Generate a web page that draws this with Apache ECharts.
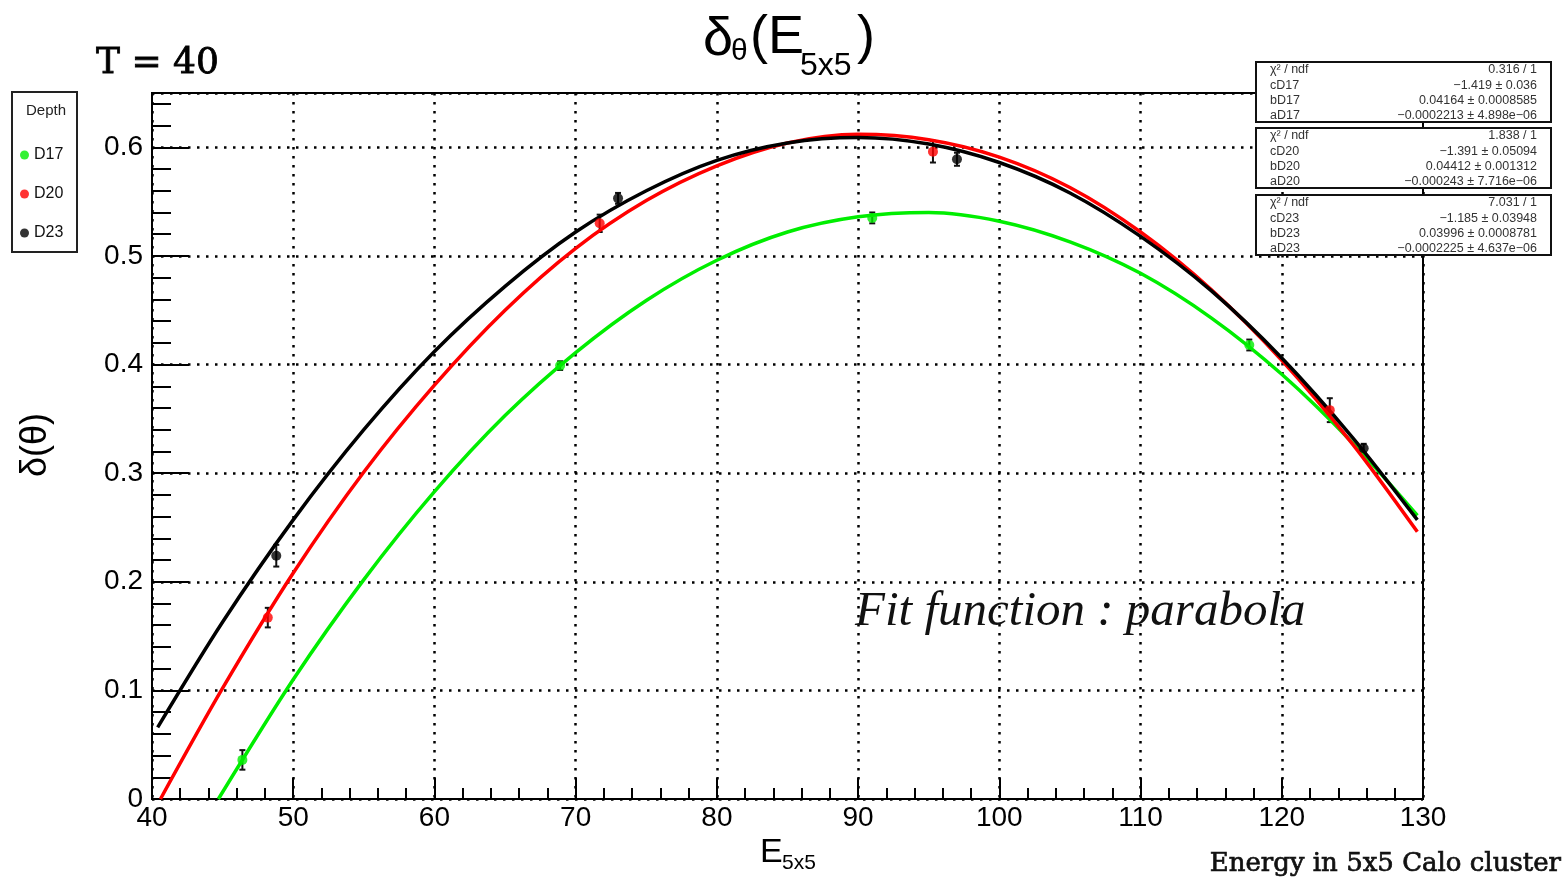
<!DOCTYPE html>
<html>
<head>
<meta charset="utf-8">
<script src="https://cdn.jsdelivr.net/npm/echarts@6/dist/echarts.min.js"></script>
<style>html,body{margin:0;padding:0;background:#fff;}#c{width:1568px;height:881px;}</style>
</head>
<body>
<div id="c"></div>
<script>
// ---- data ----
const xTicks = [40, 50, 60, 70, 80, 90, 100, 110, 120, 130];
const yTicks = [0, 0.1, 0.2, 0.3, 0.4, 0.5, 0.6];

const seriesNames = ['D17', 'D20', 'D23'];

const xD17 = [46.4, 68.9, 91.0, 117.7];
const yD17 = [0.036, 0.399, 0.535, 0.418];
const eD17 = [0.009, 0.004, 0.005, 0.005];

const xD20 = [48.2, 71.7, 95.3, 123.4];
const yD20 = [0.167, 0.530, 0.596, 0.358];
const eD20 = [0.009, 0.008, 0.010, 0.011];

const xD23 = [48.8, 73.0, 97.0, 125.8];
const yD23 = [0.224, 0.553, 0.589, 0.323];
const eD23 = [0.010, 0.005, 0.006, 0.004];

// fit curves (parabolas)
const fitD17X = [44.7, 50, 55, 60, 65, 70, 75, 80, 85, 90, 95, 100, 105, 110, 115, 120, 125, 129.6];
const fitD17Y = [0.000, 0.110, 0.202, 0.283, 0.353, 0.411, 0.459, 0.496, 0.522, 0.536, 0.540, 0.532, 0.513, 0.484, 0.443, 0.391, 0.328, 0.261];
const fitD20X = [40.6, 45, 50, 55, 60, 65, 70, 75, 80, 85, 90, 95, 100, 105, 110, 115, 120, 125, 129.6];
const fitD20Y = [0.000, 0.102, 0.208, 0.301, 0.381, 0.450, 0.507, 0.551, 0.583, 0.604, 0.612, 0.607, 0.591, 0.563, 0.522, 0.469, 0.404, 0.327, 0.246];
const fitD23X = [40.4, 45, 50, 55, 60, 65, 70, 75, 80, 85, 90, 95, 100, 105, 110, 115, 120, 125, 129.6];
const fitD23Y = [0.066, 0.163, 0.257, 0.340, 0.412, 0.472, 0.522, 0.560, 0.588, 0.604, 0.609, 0.603, 0.586, 0.558, 0.518, 0.468, 0.406, 0.333, 0.257];

// fit statistics boxes
const statLabels17 = ['χ² / ndf', 'cD17', 'bD17', 'aD17'];
const statValues17 = ['0.316 / 1', '−1.419 ± 0.036', '0.04164 ± 0.0008585', '−0.0002213 ± 4.898e−06'];
const statLabels20 = ['χ² / ndf', 'cD20', 'bD20', 'aD20'];
const statValues20 = ['1.838 / 1', '−1.391 ± 0.05094', '0.04412 ± 0.001312', '−0.000243 ± 7.716e−06'];
const statLabels23 = ['χ² / ndf', 'cD23', 'bD23', 'aD23'];
const statValues23 = ['7.031 / 1', '−1.185 ± 0.03948', '0.03996 ± 0.0008781', '−0.0002225 ± 4.637e−06'];

// ---- build ----
const colors = ['#00ee00', '#ff0000', '#000000'];
const SANS = '"Liberation Sans", Arial, sans-serif';
const SERIF = '"DejaVu Serif", serif';
const ZTOP = 200;

function pts(xs, ys) { return xs.map((x, i) => [x, ys[i]]); }
function errPts(xs, ys, es) { return xs.map((x, i) => [x, ys[i], es[i]]); }

function errSeries(name, xs, ys, es) {
  return {
    type: 'custom', name: name + ' err', coordinateSystem: 'cartesian2d',
    data: errPts(xs, ys, es), silent: true, z: 3,
    renderItem: function (params, api) {
      const x = api.value(0), y = api.value(1), e = api.value(2);
      const lo = api.coord([x, y - e]), hi = api.coord([x, y + e]);
      const st = { stroke: '#111', lineWidth: 2 };
      return {
        type: 'group', children: [
          { type: 'line', shape: { x1: lo[0], y1: lo[1], x2: hi[0], y2: hi[1] }, style: st },
          { type: 'line', shape: { x1: lo[0] - 3, y1: lo[1], x2: lo[0] + 3, y2: lo[1] }, style: st },
          { type: 'line', shape: { x1: hi[0] - 3, y1: hi[1], x2: hi[0] + 3, y2: hi[1] }, style: st }
        ]
      };
    }
  };
}
function scatterSeries(name, xs, ys, color) {
  return { type: 'scatter', name: name, data: pts(xs, ys), symbol: 'circle', symbolSize: 10,
    itemStyle: { color: color }, z: 3, silent: true };
}
function fitSeries(name, xs, ys, color) {
  return { type: 'line', name: 'fit ' + name, data: pts(xs, ys), showSymbol: false, smooth: 0.3,
    lineStyle: { color: color, width: 3.5 }, z: 3, silent: true };
}

function txt(text, x, y, font, extra) {
  return Object.assign({ type: 'text', z: ZTOP + 2,
    style: Object.assign({ text: text, x: x, y: y, font: font, fill: '#000', textVerticalAlign: 'middle' }, extra || {}) });
}

function statBox(top, labels, values) {
  const els = [{ type: 'rect', z: ZTOP, shape: { x: 1256, y: top, width: 295, height: 60 },
    style: { fill: '#fff', stroke: '#111', lineWidth: 2 } }];
  labels.forEach((l, i) => {
    const y = top + 8 + i * 15.2;
    els.push({ type: 'text', z: ZTOP + 2, style: { text: l, x: 1270, y: y, font: '12.5px ' + SANS, fill: '#333',
      textAlign: 'left', textVerticalAlign: 'middle' } });
    els.push({ type: 'text', z: ZTOP + 2, style: { text: values[i], x: 1537, y: y, font: '12.5px ' + SANS, fill: '#333',
      textAlign: 'right', textVerticalAlign: 'middle' } });
  });
  return els;
}

const chart = echarts.init(document.getElementById('c'), null, { renderer: 'canvas' });
const option = {
  backgroundColor: '#fff',
  animation: false,
  grid: { left: 152, right: 145, top: 93, bottom: 82, show: true, borderColor: '#000', borderWidth: 2, backgroundColor: 'transparent' },
  xAxis: {
    type: 'value', min: xTicks[0], max: xTicks[xTicks.length - 1], interval: 10,
    axisLine: { show: true, lineStyle: { color: '#000', width: 2 } },
    axisTick: { show: true, inside: true, length: 21, lineStyle: { color: '#000', width: 2 } },
    minorTick: { show: true, splitNumber: 5, length: 11, lineStyle: { color: '#000', width: 2 } },
    axisLabel: { color: '#000', fontSize: 28, fontFamily: SANS, margin: 5 },
    splitLine: { show: true, lineStyle: { color: '#000', width: 2.5, type: [2.5, 6.5] } }
  },
  yAxis: {
    type: 'value', min: yTicks[0], max: 0.65, interval: 0.1,
    axisLine: { show: true, lineStyle: { color: '#000', width: 2 } },
    axisTick: { show: true, inside: true, length: 37, lineStyle: { color: '#000', width: 2 } },
    minorTick: { show: true, splitNumber: 5, length: 19, lineStyle: { color: '#000', width: 2 } },
    axisLabel: { color: '#000', fontSize: 28, fontFamily: SANS, margin: 9, showMaxLabel: false,
      formatter: v => (v > 0.6001 ? '' : String(+v.toFixed(1))) },
    splitLine: { show: true, lineStyle: { color: '#000', width: 2.5, type: [2.5, 6.5] } }
  },
  legend: {
    data: seriesNames, orient: 'vertical', left: 15, top: 142, itemGap: 23, itemWidth: 9, itemHeight: 9,
    icon: 'circle', textStyle: { fontSize: 16, color: '#111', fontFamily: SANS }, z: ZTOP + 5
  },
  series: [
    errSeries('D17', xD17, yD17, eD17), scatterSeries('D17', xD17, yD17, colors[0]), fitSeries('D17', fitD17X, fitD17Y, colors[0]),
    errSeries('D20', xD20, yD20, eD20), scatterSeries('D20', xD20, yD20, colors[1]), fitSeries('D20', fitD20X, fitD20Y, colors[1]),
    errSeries('D23', xD23, yD23, eD23), scatterSeries('D23', xD23, yD23, colors[2]), fitSeries('D23', fitD23X, fitD23Y, colors[2])
  ],
  graphic: [].concat(
    [
      // title δθ(E5x5)
      txt('δ', 703, 40, '54px ' + SANS),
      txt('θ', 731, 52, '30px ' + SANS),
      txt('(E', 750, 38, '54px ' + SANS),
      txt('5x5', 800, 66, '32px ' + SANS),
      txt(')', 857, 38, '54px ' + SANS),
      // T = 40
      txt('T = 40', 96, 64, '36px ' + SERIF, { stroke: '#000', lineWidth: 0.8 }),
      // y axis name δ(θ)
      { type: 'text', z: ZTOP + 2, rotation: Math.PI / 2, x: 36, y: 445,
        style: { text: 'δ(θ)', x: 0, y: 0, font: '36px ' + SANS, fill: '#000', textAlign: 'center', textVerticalAlign: 'middle' } },
      // x axis name E5x5
      txt('E', 760, 853, '34px ' + SANS),
      txt('5x5', 782, 863, '21px ' + SANS),
      // Energy in 5x5 Calo cluster
      txt('Energy in 5x5 Calo cluster', 1561, 864, '26px ' + SERIF, { textAlign: 'right', fill: '#111', stroke: '#111', lineWidth: 0.7 }),
      // Fit function annotation
      txt('Fit function : parabola', 855, 612, 'italic 49px "Liberation Serif", serif', { fill: '#111' }),
      // legend box
      { type: 'rect', z: ZTOP, shape: { x: 12, y: 92, width: 65, height: 160 }, style: { fill: '#fff', stroke: '#222', lineWidth: 2 } },
      txt('Depth', 46, 111, '15px ' + SANS, { textAlign: 'center', fill: '#222' })
    ],
    statBox(62, statLabels17, statValues17),
    statBox(128, statLabels20, statValues20),
    statBox(195, statLabels23, statValues23)
  )
};
chart.setOption(option);
</script>
</body>
</html>
